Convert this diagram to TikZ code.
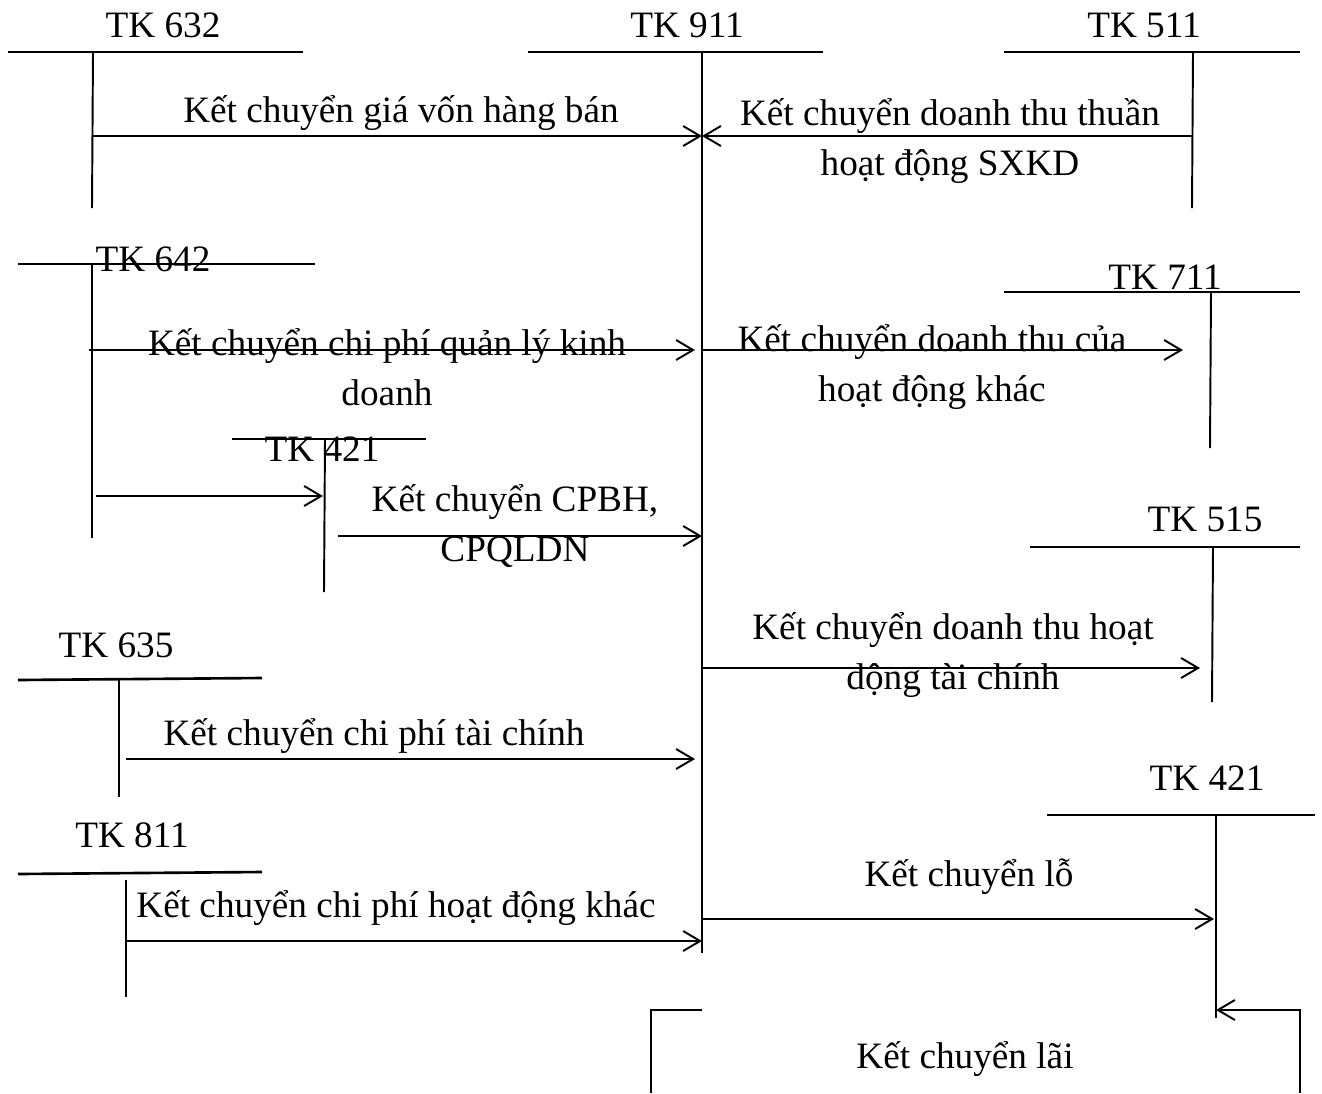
\documentclass[tikz,border=0pt]{standalone}
\usepackage{fontspec}
\setmainfont{Liberation Serif}
\usetikzlibrary{arrows.meta}
\begin{document}
\begin{tikzpicture}[x=0.02cm,y=-0.02cm,
  bar/.style={line width=1.5pt},
  stem/.style={line width=1.1pt},
  flow/.style={line width=1.1pt,-{Straight Barb[length=0.34cm,width=0.4cm]}},
  lbl/.style={font=\fontsize{21.2}{28.4}\selectfont,inner sep=0pt,anchor=base},
  mlbl/.style={lbl,align=center}]
\useasboundingbox (0,0) rectangle (1322,1093);

% ---- TK 632
\draw[bar] (8,52) -- (303,52);
\draw[stem] (93,52) -- (92,208);
\node[lbl] (n632) at (163,37) {TK 632};
% ---- TK 911
\draw[bar] (528,52) -- (823,52);
\draw[stem] (702,52) -- (702,953);
\node[lbl] (n911) at (687,37) {TK 911};
% ---- TK 511
\draw[bar] (1004,52) -- (1300,52);
\draw[stem] (1193,52) -- (1192,208);
\node[lbl] (n511) at (1144,37) {TK 511};
% ---- TK 642
\draw[bar] (18,264) -- (315,264);
\draw[stem] (92,264) -- (92,538);
\node[lbl] (n642) at (153,271) {TK 642};
% ---- TK 711
\draw[bar] (1004,292) -- (1300,292);
\draw[stem] (1211,292) -- (1210,448);
\node[lbl] (n711) at (1165,289) {TK 711};
% ---- TK 421 (middle)
\draw[bar] (232,439) -- (426,439);
\draw[stem] (325,439) -- (324,592);
\node[lbl] (n421a) at (322,461) {TK 421};
% ---- TK 515
\draw[bar] (1030,547) -- (1300,547);
\draw[stem] (1213,547) -- (1212,702);
\node[lbl] (n515) at (1205,531) {TK 515};
% ---- TK 635
\draw[bar] (18,680) -- (262,678);
\draw[stem] (119,680) -- (119,797);
\node[lbl] (n635) at (116,657) {TK 635};
% ---- TK 811
\draw[bar] (18,874) -- (262,872);
\draw[stem] (126,880) -- (126,997);
\node[lbl] (n811) at (132,847) {TK 811};
% ---- TK 421 (right)
\draw[bar] (1047,815) -- (1315,815);
\draw[stem] (1216,815) -- (1216,1018);
\node[lbl] (n421b) at (1207,790) {TK 421};

% ---- connector end points
\coordinate (a1s) at (93,136);   \coordinate (a1e) at (702,136);
\coordinate (a2s) at (1192,136); \coordinate (a2e) at (702,136);
\coordinate (a3s) at (89,350);   \coordinate (a3e) at (695,350);
\coordinate (a4s) at (702,350);  \coordinate (a4e) at (1183,350);
\coordinate (a5s) at (96,496);   \coordinate (a5e) at (323,496);
\coordinate (a6s) at (338,536);  \coordinate (a6e) at (702,536);
\coordinate (a7s) at (702,668);  \coordinate (a7e) at (1200,668);
\coordinate (a8s) at (126,759);  \coordinate (a8e) at (695,759);
\coordinate (a9s) at (126,941);  \coordinate (a9e) at (702,941);
\coordinate (a10s) at (702,919); \coordinate (a10e) at (1214,919);
\coordinate (b1) at (702,1010);  \coordinate (b2) at (651,1010); \coordinate (b3) at (651,1093);
\coordinate (c1) at (1300,1093); \coordinate (c2) at (1300,1010); \coordinate (c3) at (1216,1010);

\draw[flow] (a1s) -- (a1e);
\draw[flow] (a2s) -- (a2e);
\draw[flow] (a3s) -- (a3e);
\draw[flow] (a4s) -- (a4e);
\draw[flow] (a5s) -- (a5e);
\draw[flow] (a6s) -- (a6e);
\draw[flow] (a7s) -- (a7e);
\draw[flow] (a8s) -- (a8e);
\draw[flow] (a9s) -- (a9e);
\draw[flow] (a10s) -- (a10e);
\draw[stem] (b1) -- (b2) -- (b3);
\draw[flow] (c1) -- (c2) -- (c3);

% ---- labels (multi-line nodes: base = baseline of last line)
\node[lbl] (l1) at (401,122) {Kết chuyển giá vốn hàng bán};
\node[mlbl] (l2) at (950,175) {Kết chuyển doanh thu thuần\\hoạt động SXKD};
\node[mlbl] (l3) at (387,405) {Kết chuyển chi phí quản lý kinh\\doanh};
\node[mlbl] (l4) at (932,401) {Kết chuyển doanh thu của\\hoạt động khác};
\node[mlbl] (l5) at (515,561) {Kết chuyển CPBH,\\CPQLDN};
\node[mlbl] (l6) at (953,689) {Kết chuyển doanh thu hoạt\\động tài chính};
\node[lbl] (l7) at (374,745) {Kết chuyển chi phí tài chính};
\node[lbl] (l8) at (396,917) {Kết chuyển chi phí hoạt động khác};
\node[lbl] (l9) at (969,886) {Kết chuyển lỗ};
\node[lbl] (l10) at (965,1068) {Kết chuyển lãi};
\end{tikzpicture}
\end{document}
